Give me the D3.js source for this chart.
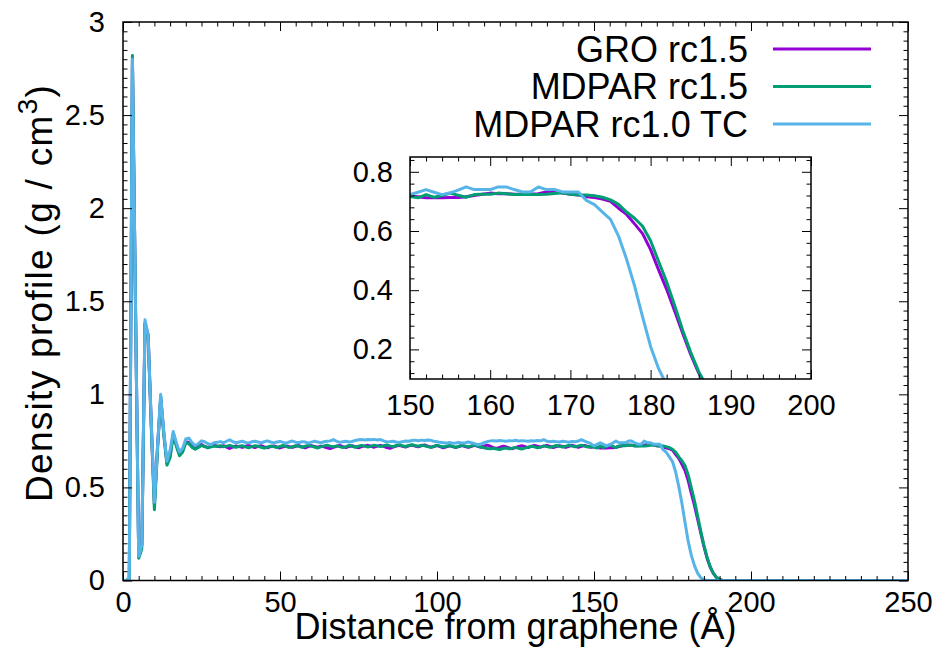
<!DOCTYPE html>
<html>
<head>
<meta charset="utf-8">
<script src="https://cdn.jsdelivr.net/npm/d3@7"></script>
<style>
    html, body { margin: 0; padding: 0; background: #fff; }
    svg { display: block; font-family: "Liberation Sans", Arial, sans-serif; }
</style>
</head>
<body>
<svg id="chart" width="940" height="654"></svg>
<script>
// ---- data (distance bins of 1 Å, density in g/cm^3) ----
const seriesNames = ['GRO rc1.5', 'MDPAR rc1.5', 'MDPAR rc1.0 TC'];
const seriesColors = ['#9400d3', '#009e73', '#56b4e9'];
const binWidth = 1;
const distanceEnd = 250;

const groRc15 = [
    0, 0, 0.01, 2.80, 1.45, 0.13, 0.19, 1.38, 1.32, 0.84,
    0.41, 0.72, 0.98, 0.79, 0.63, 0.67, 0.79, 0.73, 0.68, 0.70,
    0.745, 0.74, 0.72, 0.71, 0.72, 0.73, 0.72, 0.715, 0.72, 0.725,
    0.722, 0.718, 0.724, 0.716, 0.709, 0.717, 0.723, 0.719, 0.715, 0.721,
    0.725, 0.719, 0.714, 0.720, 0.724, 0.718, 0.713, 0.719, 0.723, 0.717,
    0.712, 0.718, 0.723, 0.719, 0.715, 0.721, 0.725, 0.718, 0.712, 0.719,
    0.724, 0.720, 0.716, 0.721, 0.718, 0.713, 0.709, 0.715, 0.721, 0.725,
    0.719, 0.714, 0.720, 0.724, 0.718, 0.713, 0.719, 0.723, 0.726, 0.721,
    0.716, 0.722, 0.726, 0.720, 0.714, 0.710, 0.716, 0.722, 0.726, 0.721,
    0.717, 0.723, 0.727, 0.722, 0.718, 0.724, 0.728, 0.722, 0.716, 0.720,
    0.725, 0.719, 0.713, 0.718, 0.723, 0.719, 0.714, 0.720, 0.725, 0.720,
    0.715, 0.721, 0.726, 0.721, 0.716, 0.722, 0.727, 0.721, 0.714, 0.709,
    0.715, 0.721, 0.718, 0.712, 0.708, 0.714, 0.720, 0.724, 0.719, 0.714,
    0.720, 0.725, 0.721, 0.716, 0.722, 0.726, 0.720, 0.714, 0.719, 0.724,
    0.720, 0.715, 0.721, 0.726, 0.721, 0.716, 0.721, 0.725, 0.720, 0.716,
    0.718, 0.716, 0.712, 0.712, 0.712, 0.713, 0.713, 0.716, 0.720, 0.724,
    0.728, 0.726, 0.726, 0.724, 0.724, 0.725, 0.726, 0.732, 0.733, 0.728,
    0.724, 0.722, 0.716, 0.713, 0.708, 0.700, 0.677, 0.656, 0.624, 0.591,
    0.537, 0.468, 0.403, 0.330, 0.255, 0.183, 0.120, 0.072, 0.038, 0.016,
    0.005, 0
];

const mdparRc15 = [
    0, 0, 0.01, 2.82, 1.45, 0.12, 0.17, 1.38, 1.31, 0.83,
    0.38, 0.70, 0.99, 0.78, 0.62, 0.66, 0.78, 0.72, 0.67, 0.69,
    0.74, 0.735, 0.715, 0.705, 0.715, 0.725, 0.72, 0.712, 0.718, 0.722,
    0.720, 0.724, 0.718, 0.722, 0.726, 0.720, 0.715, 0.721, 0.724, 0.718,
    0.713, 0.719, 0.724, 0.721, 0.716, 0.711, 0.717, 0.722, 0.719, 0.714,
    0.720, 0.725, 0.719, 0.714, 0.719, 0.724, 0.721, 0.716, 0.721, 0.726,
    0.722, 0.717, 0.712, 0.718, 0.723, 0.727, 0.722, 0.718, 0.723, 0.719,
    0.714, 0.719, 0.725, 0.721, 0.716, 0.721, 0.726, 0.722, 0.717, 0.722,
    0.727, 0.723, 0.719, 0.724, 0.728, 0.723, 0.719, 0.725, 0.729, 0.724,
    0.720, 0.725, 0.729, 0.725, 0.721, 0.726, 0.724, 0.719, 0.715, 0.720,
    0.726, 0.722, 0.717, 0.721, 0.725, 0.720, 0.716, 0.721, 0.726, 0.722,
    0.718, 0.723, 0.727, 0.722, 0.717, 0.713, 0.709, 0.707, 0.710, 0.706,
    0.704, 0.709, 0.712, 0.707, 0.711, 0.715, 0.710, 0.706, 0.711, 0.716,
    0.721, 0.718, 0.713, 0.718, 0.723, 0.719, 0.715, 0.720, 0.725, 0.721,
    0.717, 0.722, 0.726, 0.722, 0.718, 0.723, 0.727, 0.722, 0.717, 0.720,
    0.717, 0.712, 0.723, 0.714, 0.720, 0.728, 0.721, 0.714, 0.723, 0.724,
    0.724, 0.728, 0.726, 0.723, 0.723, 0.723, 0.723, 0.724, 0.727, 0.729,
    0.724, 0.722, 0.722, 0.719, 0.714, 0.705, 0.690, 0.664, 0.643, 0.616,
    0.567, 0.497, 0.428, 0.348, 0.265, 0.190, 0.125, 0.075, 0.040, 0.017,
    0.006, 0
];

const mdparRc10TC = [
    0, 0, 0.01, 2.80, 1.45, 0.13, 0.19, 1.40, 1.32, 0.85,
    0.42, 0.72, 1.00, 0.80, 0.64, 0.70, 0.80, 0.74, 0.69, 0.71,
    0.76, 0.765, 0.74, 0.725, 0.735, 0.75, 0.745, 0.735, 0.73, 0.74,
    0.742, 0.746, 0.740, 0.748, 0.756, 0.745, 0.740, 0.744, 0.748, 0.742,
    0.738, 0.745, 0.748, 0.744, 0.740, 0.745, 0.750, 0.744, 0.739, 0.744,
    0.747, 0.742, 0.738, 0.745, 0.749, 0.743, 0.740, 0.746, 0.744, 0.738,
    0.743, 0.748, 0.744, 0.740, 0.745, 0.748, 0.750, 0.757, 0.748, 0.742,
    0.745, 0.748, 0.744, 0.747, 0.752, 0.756, 0.757, 0.755, 0.757, 0.756,
    0.758, 0.755, 0.757, 0.750, 0.744, 0.746, 0.748, 0.744, 0.741, 0.746,
    0.749, 0.748, 0.752, 0.754, 0.751, 0.754, 0.752, 0.755, 0.753, 0.748,
    0.745, 0.742, 0.740, 0.738, 0.741, 0.737, 0.739, 0.742, 0.738, 0.740,
    0.744, 0.740, 0.735, 0.729, 0.733, 0.740, 0.746, 0.750, 0.751, 0.749,
    0.752, 0.750, 0.748, 0.751, 0.750, 0.753, 0.749, 0.751, 0.750, 0.748,
    0.751, 0.749, 0.752, 0.750, 0.757, 0.748, 0.745, 0.748, 0.746, 0.744,
    0.748, 0.746, 0.743, 0.747, 0.745, 0.749, 0.756, 0.749, 0.742, 0.735,
    0.723, 0.731, 0.740, 0.731, 0.723, 0.729, 0.738, 0.749, 0.740, 0.740,
    0.740, 0.749, 0.749, 0.740, 0.732, 0.732, 0.749, 0.740, 0.740, 0.732,
    0.732, 0.732, 0.703, 0.689, 0.664, 0.639, 0.583, 0.505, 0.415, 0.310,
    0.210, 0.135, 0.080, 0.040, 0.015, 0.004, 0
];

const mainXTicks = [0, 50, 100, 150, 200, 250];
const mainYTicks = [0, 0.5, 1, 1.5, 2, 2.5, 3];
const insetXTicks = [150, 160, 170, 180, 190, 200];
const insetYTicks = [0.2, 0.4, 0.6, 0.8];

const xTitle = 'Distance from graphene (Å)';

// ---- layout ----
const svg = d3.select('#chart');
const main = { left: 123, right: 908, top: 22, bottom: 580.5 };
const inset = { left: 410, right: 811, top: 157, bottom: 379 };

const series = [groRc15, mdparRc15, mdparRc10TC].map((vals, i) => {
    const pts = vals.map((v, j) => [j * binWidth, v]);
    pts.push([distanceEnd, 0]);
    return { name: seriesNames[i], color: seriesColors[i], points: pts };
});

function drawPanel(box, xDomain, yDomain, xTicks, yTicks, xMinor, yMinor, opts) {
    const x = d3.scaleLinear().domain(xDomain).range([box.left, box.right]);
    const y = d3.scaleLinear().domain(yDomain).range([box.bottom, box.top]);
    const g = svg.append('g');
    const id = 'clip' + opts.id;

    g.append('clipPath').attr('id', id)
        .append('rect')
        .attr('x', box.left).attr('y', box.top)
        .attr('width', box.right - box.left).attr('height', box.bottom - box.top);

    g.append('rect')
        .attr('x', box.left).attr('y', box.top)
        .attr('width', box.right - box.left).attr('height', box.bottom - box.top)
        .attr('fill', '#fff');

    const line = d3.line().x(d => x(d[0])).y(d => y(d[1]));
    g.append('g').attr('clip-path', `url(#${id})`)
        .selectAll('path')
        .data(series)
        .join('path')
        .attr('d', d => line(d.points))
        .attr('fill', 'none')
        .attr('stroke', d => d.color)
        .attr('stroke-width', 3)
        .attr('stroke-linejoin', 'round');

    const major = 9, minor = 4.5;
    const fmt = d3.format('~g');
    const axes = [
        [() => d3.axisBottom(x), box.bottom, 'x', xTicks, xMinor, true],
        [() => d3.axisTop(x), box.top, 'x', xTicks, xMinor, false],
        [() => d3.axisLeft(y), box.left, 'y', yTicks, yMinor, true],
        [() => d3.axisRight(y), box.right, 'y', yTicks, yMinor, false]
    ];
    axes.forEach(([makeAxis, pos, dim, ticks, minorTicks, labelled]) => {
        const tr = dim === 'x' ? `translate(0,${pos})` : `translate(${pos},0)`;
        const pad = dim === 'x' ? opts.xPad : opts.yPad;
        g.append('g').attr('transform', tr)
            .call(makeAxis().tickValues(minorTicks).tickSize(-minor).tickFormat(''))
            .call(s => s.select('.domain').remove());
        g.append('g').attr('transform', tr)
            .call(makeAxis().tickValues(ticks).tickSize(-major).tickPadding(pad)
                .tickFormat(labelled ? fmt : ''))
            .call(s => s.select('.domain').remove())
            .call(s => s.selectAll('text')
                .attr('font-size', 29)
                .attr('font-family', '"Liberation Sans", Arial, sans-serif')
                .attr('fill', '#000'));
    });
    g.selectAll('.tick line').attr('stroke', '#000').attr('stroke-width', 1);

    g.append('rect')
        .attr('x', box.left).attr('y', box.top)
        .attr('width', box.right - box.left).attr('height', box.bottom - box.top)
        .attr('fill', 'none').attr('stroke', '#000').attr('stroke-width', 1.5);
}

// main panel
drawPanel(main, [0, 250], [0, 3], mainXTicks, mainYTicks,
    d3.range(0, 251, 5).filter(v => v % 50 !== 0),
    d3.range(0, 61).map(v => v / 20).filter((v, i) => i % 10 !== 0),
    { id: 'main', xPad: 11, yPad: 18 });

// legend
const legend = svg.append('g').attr('font-size', 36).attr('fill', '#000');
series.forEach((s, i) => {
    const cy = 49 + i * 37.5;
    legend.append('text')
        .attr('x', 748).attr('y', cy).attr('dy', '0.36em')
        .attr('text-anchor', 'end')
        .text(s.name);
    legend.append('line')
        .attr('x1', 773).attr('x2', 871).attr('y1', cy).attr('y2', cy)
        .attr('stroke', s.color).attr('stroke-width', 3);
});

// axis titles
svg.append('text')
    .attr('x', (main.left + main.right) / 2).attr('y', 639)
    .attr('text-anchor', 'middle').attr('font-size', 36)
    .text(xTitle);

const yt = svg.append('text')
    .attr('transform', 'translate(52,502) rotate(-90)')
    .attr('text-anchor', 'start').attr('font-size', 37)
    .attr('letter-spacing', 1.3);
yt.append('tspan').text('Density profile (g / cm');
yt.append('tspan').attr('dy', -15).attr('font-size', 28).text('3');
yt.append('tspan').attr('dy', 15).text(')');

// inset panel
drawPanel(inset, [150, 200], [0.1, 0.85], insetXTicks, insetYTicks,
    d3.range(150, 201, 2).filter(v => v % 10 !== 0),
    d3.range(3, 22).map(v => v * 0.04).filter(v => Math.abs(v / 0.2 - Math.round(v / 0.2)) > 1e-6),
    { id: 'inset', xPad: 15, yPad: 17 });
</script>
</body>
</html>
